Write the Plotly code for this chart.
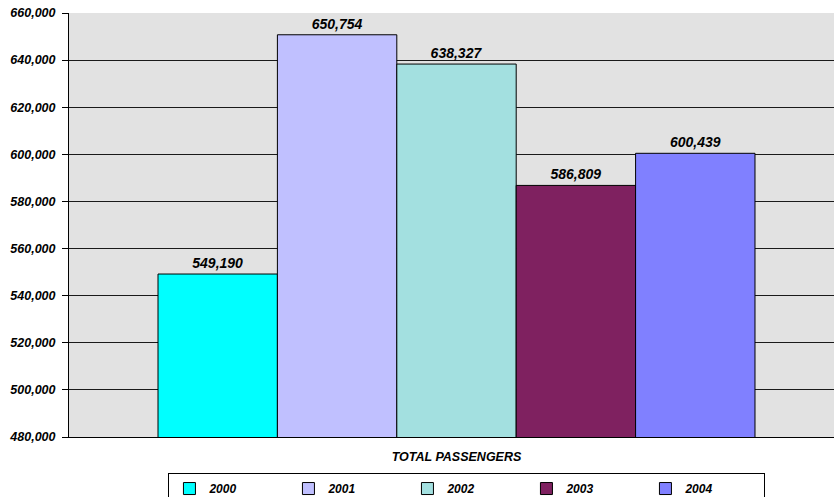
import plotly.graph_objects as go

category = ["TOTAL PASSENGERS"]
years = ["2000", "2001", "2002", "2003", "2004"]
passengers = [549190, 650754, 638327, 586809, 600439]
colors = ["#00FFFF", "#C0C0FF", "#A3E0E0", "#7F2160", "#8080FF"]

FONT = "Liberation Sans, Arial, sans-serif"

fig = go.Figure()
for yr, val, col in zip(years, passengers, colors):
    fig.add_trace(go.Bar(
        name=yr, x=category, y=[val],
        marker=dict(color=col, line=dict(color="#000000", width=1)),
        text=[f"{val:,}"], textposition="outside",
        textfont=dict(family=FONT, size=14, color="#000000", weight="bold", style="italic"),
        cliponaxis=False,
    ))

fig.update_layout(
    width=834, height=497,
    margin=dict(l=69, r=0, t=13, b=60, autoexpand=False),
    paper_bgcolor="#FFFFFF", plot_bgcolor="#E2E2E2",
    barmode="group", bargap=0.2297, bargroupgap=0,
    font=dict(family=FONT, size=12, color="#000000", weight="bold", style="italic"),
    showlegend=True,
    legend=dict(
        orientation="h", x=0.130, xanchor="left", y=-0.085, yanchor="top",
        bordercolor="#000000", borderwidth=1, bgcolor="#FFFFFF",
        entrywidth=74, entrywidthmode="pixels", itemwidth=30,
        font=dict(family=FONT, size=12, color="#000000", weight="bold", style="italic"),
        traceorder="normal",
    ),
)
fig.update_xaxes(
    range=[-0.5, 0.4871], showgrid=False, showline=True, linecolor="#000000", linewidth=1,
    ticks="", ticklabelstandoff=8,
    tickfont=dict(family=FONT, size=12.5, weight="bold", style="italic"),
    fixedrange=True,
)
fig.update_yaxes(
    range=[480000, 660000], dtick=20000, tickformat=",",
    showgrid=True, gridcolor="#1A1A1A", gridwidth=1,
    showline=True, linecolor="#000000", linewidth=1,
    ticks="outside", ticklen=6, tickcolor="#000000", ticklabelstandoff=4,
    tickfont=dict(family=FONT, size=12.5, weight="bold", style="italic"),
    zeroline=False,
)

fig.write_html("out.html")
